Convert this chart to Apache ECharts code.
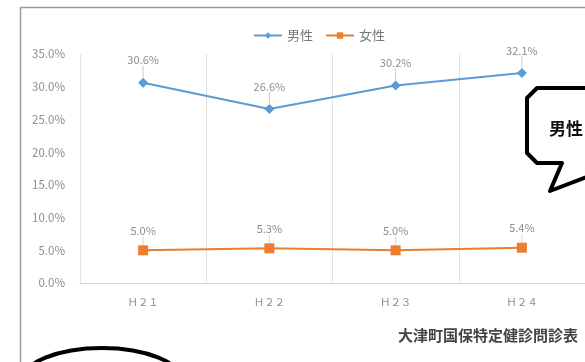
<!DOCTYPE html>
<html><head><meta charset="utf-8">
<script src="https://cdn.jsdelivr.net/npm/echarts@6/dist/echarts.min.js"></script>
<style>html,body{margin:0;padding:0;background:#fff}#c{width:585px;height:362px}</style>
</head><body><div id="c"></div>
<script>
var categories = ['Ｈ２１', 'Ｈ２２', 'Ｈ２３', 'Ｈ２４'];
var maleValues = [30.6, 26.6, 30.2, 32.1];
var femaleValues = [5.0, 5.3, 5.0, 5.4];
var seriesNames = ['男性', '女性'];
var yTicks = [0, 5, 10, 15, 20, 25, 30, 35];
var sourceText = '大津町国保特定健診問診表';
var calloutText = '男性';

var chart = echarts.init(document.getElementById('c'), null, {renderer: 'canvas'});
var font = '"Noto Sans CJK JP", "Noto Sans", sans-serif';
function labelCfg(color) {
  return {
    show: true, position: 'top', distance: 6, color: '#8c8c8c', fontSize: 11, fontFamily: font,
    formatter: function (p) { return p.value.toFixed(1) + '%'; }
  };
}
chart.setOption({
  animation: false,
  backgroundColor: '#fff',
  textStyle: {fontFamily: font},
  grid: {left: 80, right: 0, top: 54, bottom: 79, containLabel: false},
  legend: {
    data: seriesNames, top: 24, left: 248, itemWidth: 28, itemHeight: 8, itemGap: 12,
    textStyle: {color: '#777', fontSize: 13, fontFamily: font}
  },
  xAxis: {
    type: 'category', data: categories, boundaryGap: true,
    axisLine: {lineStyle: {color: '#d9d9d9'}}, axisTick: {show: false},
    splitLine: {show: true, lineStyle: {color: '#e3e3e3'}},
    axisLabel: {color: '#8c8c8c', fontSize: 10.5, margin: 14, fontFamily: font}
  },
  yAxis: {
    type: 'value', min: 0, max: 35, interval: 5,
    axisLine: {show: false}, axisTick: {show: false}, splitLine: {show: false},
    axisLabel: {color: '#8c8c8c', fontSize: 11.5, margin: 15, fontFamily: font,
      formatter: function (v) { return v.toFixed(1) + '%'; }}
  },
  series: [
    {name: seriesNames[0], type: 'line', data: maleValues, symbol: 'diamond', symbolSize: 10,
      itemStyle: {color: '#5B9BD5'}, lineStyle: {width: 2, color: '#5B9BD5'},
      label: labelCfg(), labelLayout: {dy: -6},
      labelLine: {show: true, lineStyle: {color: '#d8c8c0', width: 1}}},
    {name: seriesNames[1], type: 'line', data: femaleValues, symbol: 'rect', symbolSize: 10,
      itemStyle: {color: '#ED7D31'}, lineStyle: {width: 2, color: '#ED7D31'},
      label: labelCfg(), labelLayout: {dy: -3},
      labelLine: {show: true, lineStyle: {color: '#d8d8d8', width: 1}}}
  ],
  graphic: [
    {type: 'rect', shape: {x: 20.5, y: 7.5, width: 700, height: 500}, style: {fill: null, stroke: '#9a9a9a', lineWidth: 1.5}, silent: true, z: 100},
    {type: 'text', right: 7, top: 328, style: {text: sourceText, fill: '#444', font: 'bold 15px ' + font}, z: 100},
    {type: 'polygon', z: 101, shape: {points: [[600, 163], [537, 163], [527, 153], [527, 98], [537, 88], [600, 88]]}, style: {fill: '#fff', stroke: null}},
    {type: 'polyline', z: 102, shape: {points: [[600, 88], [537, 88], [527, 98], [527, 153], [537, 163], [562, 163], [550, 191], [600, 172]]}, style: {fill: null, stroke: '#000', lineWidth: 4, lineJoin: 'round'}},
    {type: 'polygon', z: 101, shape: {points: [[562, 161], [550, 191], [600, 172], [600, 161]]}, style: {fill: '#fff'}},
    {type: 'text', z: 103, left: 549, top: 120, style: {text: calloutText, fill: '#111', font: 'bold 17px ' + font}},
    {type: 'ellipse', z: 102, shape: {cx: 102, cy: 381, rx: 80, ry: 33}, style: {fill: '#fff', stroke: '#000', lineWidth: 4}}
  ]
});
</script></body></html>
